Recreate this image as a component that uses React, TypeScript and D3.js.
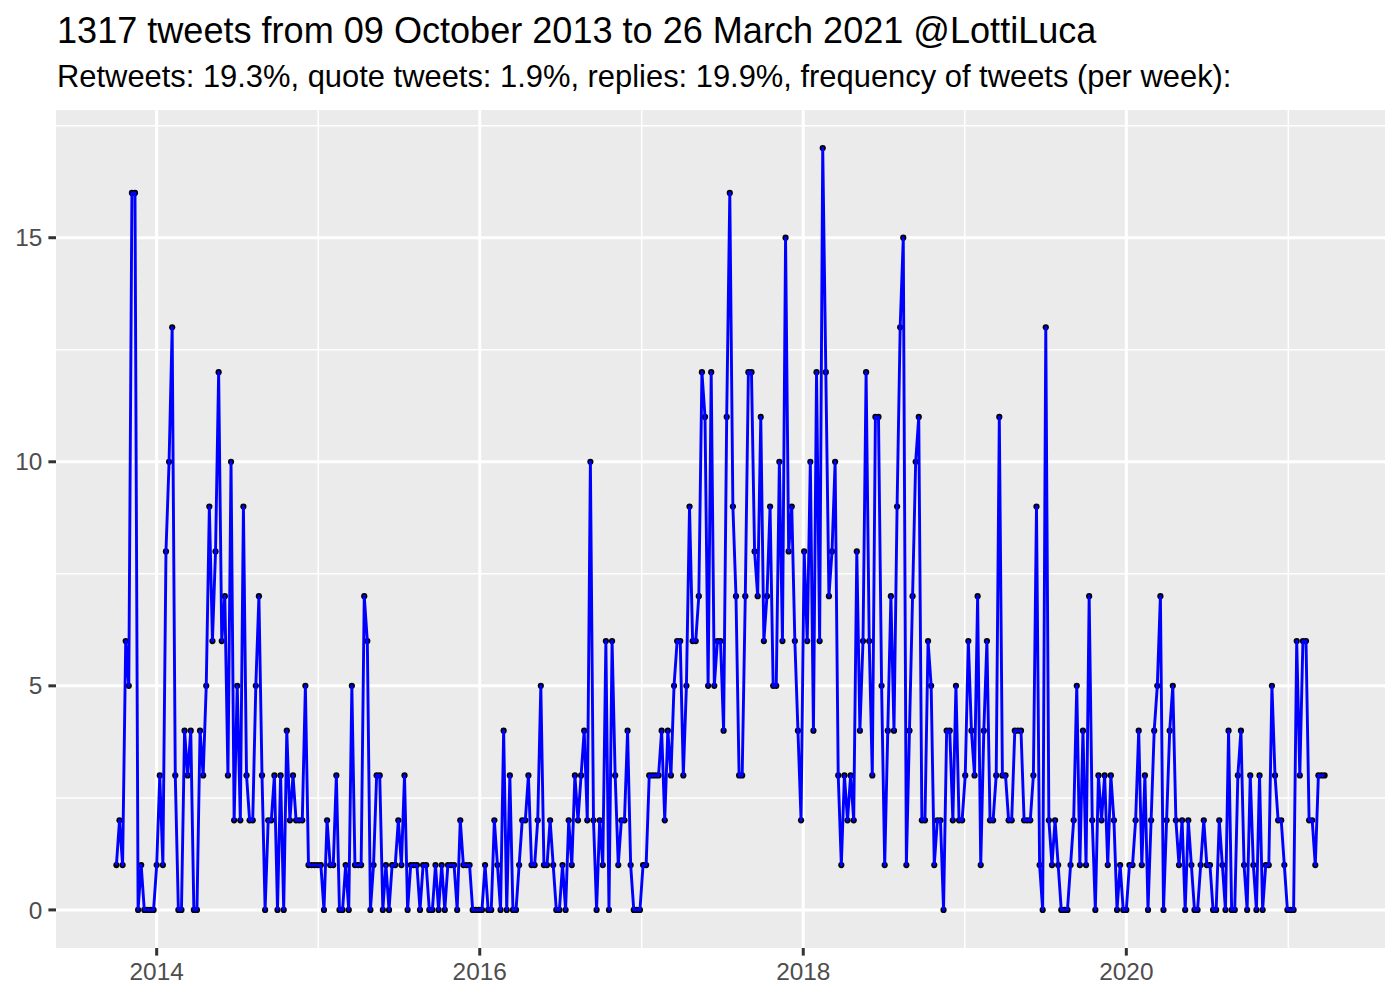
import React from "react";
import * as d3 from "d3";

// Weekly tweet counts (one value per week)
const START_WEEK = "2013-10-02";
const counts2013to14a = [1, 2, 1, 6, 5, 16, 16, 0, 1, 0, 0, 0, 0, 1, 3, 1, 8, 10, 13, 3, 0, 0, 4, 3, 4, 0, 0, 4, 3, 5, 9];
const counts2014b = [6, 8, 12, 6, 7, 3, 10, 2, 5, 2, 9, 3, 2, 2, 5, 7, 3, 0, 2, 2, 3, 0, 3, 0, 4, 2, 3, 2, 2, 2, 5, 1];
const counts2015a = [1, 1, 1, 1, 0, 2, 1, 1, 3, 0, 0, 1, 0, 5, 1, 1, 1, 7, 6, 0, 1, 3, 3, 0, 1, 0, 1, 1, 2, 1, 3, 0];
const counts2015b = [1, 1, 1, 0, 1, 1, 0, 0, 1, 0, 1, 0, 1, 1, 1, 0, 2, 1, 1, 1, 0, 0, 0, 0, 1, 0, 0, 2, 1, 0, 4, 0, 3];
const counts2016a = [0, 0, 1, 2, 2, 3, 1, 1, 2, 5, 1, 1, 2, 1, 0, 0, 1, 0, 2, 1, 3, 2, 3, 4, 2, 10, 2, 0, 2, 1, 6, 0];
const counts2016b = [6, 3, 1, 2, 2, 4, 1, 0, 0, 0, 1, 1, 3, 3, 3, 3, 4, 2, 4, 3, 5, 6, 6, 3, 5, 9, 6, 6, 7, 12, 11, 5, 12];
const counts2017 = [5, 6, 6, 4, 11, 16, 9, 7, 3, 3, 7, 12, 12, 8, 7, 11, 6, 7, 9, 5, 5, 10, 6, 15, 8, 9, 6, 4, 2, 8, 6, 10];
const counts2018a = [4, 12, 6, 17, 12, 7, 8, 10, 3, 1, 3, 2, 3, 2, 8, 4, 6, 12, 6, 3, 11, 11, 5, 1, 4, 7, 4, 9, 13, 15, 1];
const counts2018b = [4, 7, 10, 11, 2, 2, 6, 5, 1, 2, 2, 0, 4, 4, 2, 5, 2, 2, 3, 6, 4, 3, 7, 1, 4, 6, 2, 2, 3, 11, 3, 3, 2];
const counts2019 = [2, 4, 4, 4, 2, 2, 2, 3, 9, 1, 0, 13, 2, 1, 2, 1, 0, 0, 0, 1, 2, 5, 1, 4, 1, 7, 2, 0, 3, 2, 3, 1];
const counts2020a = [3, 2, 0, 1, 0, 0, 1, 1, 2, 4, 1, 3, 0, 2, 4, 5, 7, 0, 2, 4, 5, 2, 1, 2, 0, 2, 1, 0, 0, 1, 2, 1];
const counts2020b = [1, 0, 0, 2, 1, 0, 4, 0, 0, 3, 4, 1, 0, 3, 1, 0, 3, 0, 1, 1, 5, 3, 2, 2, 1, 0, 0, 0, 6, 3, 6, 6, 2, 2, 1, 3, 3, 3];

const yMajorBreaks = [0, 5, 10, 15];
const yMinorBreaks = [2.5, 7.5, 12.5, 17.5];
const xMajorYears = [2014, 2016, 2018, 2020];
const xMinorYears = [2013, 2015, 2017, 2019, 2021];

const TITLE = "1317 tweets from 09 October 2013 to 26 March 2021 @LottiLuca";
const SUBTITLE = "Retweets: 19.3%, quote tweets: 1.9%, replies: 19.9%, frequency of tweets (per week):";

const counts = [
  ...counts2013to14a, ...counts2014b, ...counts2015a, ...counts2015b,
  ...counts2016a, ...counts2016b, ...counts2017, ...counts2018a,
  ...counts2018b, ...counts2019, ...counts2020a, ...counts2020b,
];

const startDate = d3.timeParse("%Y-%m-%d")(START_WEEK) as Date;
const data = counts.map((n, i) => ({ date: d3.timeDay.offset(startDate, 7 * i), n }));

const W = 1400;
const H = 1000;
const P = { left: 56, right: 1385, top: 110, bottom: 948 };
const FONT = "'Liberation Sans', Arial, Helvetica, sans-serif";
const TICK = 7.6;

export default function App() {
  const t0 = +data[0].date;
  const t1 = +data[data.length - 1].date;
  const span = t1 - t0;
  const x = d3
    .scaleTime()
    .domain([new Date(t0 - 0.05 * span), new Date(t1 + 0.05 * span)])
    .range([P.left, P.right]);
  const yMax = d3.max(counts) as number;
  const y = d3
    .scaleLinear()
    .domain([-0.05 * yMax, yMax * 1.05])
    .range([P.bottom, P.top]);

  const [d0, d1] = x.domain();
  const inX = (d: Date) => d >= d0 && d <= d1;
  const xMajor = xMajorYears.map((yr) => new Date(yr, 0, 1)).filter(inX);
  const xMinor = xMinorYears.map((yr) => new Date(yr, 0, 1)).filter(inX);
  const [y0, y1] = y.domain();
  const yMinor = yMinorBreaks.filter((v) => v >= y0 && v <= y1);

  const line = d3
    .line<{ date: Date; n: number }>()
    .x((d) => x(d.date))
    .y((d) => y(d.n));

  return (
    <svg
      width={W}
      height={H}
      style={{ position: "absolute", left: 0, top: 0, display: "block", background: "#FFFFFF" }}
      fontFamily={FONT}
    >
      <rect x={0} y={0} width={W} height={H} fill="#FFFFFF" />
      <text x={P.left + 1} y={43} fontSize={36.1} fill="#000000">{TITLE}</text>
      <text x={P.left + 1} y={87} fontSize={30.9} fill="#000000">{SUBTITLE}</text>

      <rect x={P.left} y={P.top} width={P.right - P.left} height={P.bottom - P.top} fill="#EBEBEB" />
      {yMinor.map((v) => (
        <line key={"ym" + v} x1={P.left} x2={P.right} y1={y(v)} y2={y(v)} stroke="#FFFFFF" strokeWidth={1.5} />
      ))}
      {xMinor.map((d) => (
        <line key={"xm" + +d} x1={x(d)} x2={x(d)} y1={P.top} y2={P.bottom} stroke="#FFFFFF" strokeWidth={1.5} />
      ))}
      {yMajorBreaks.map((v) => (
        <line key={"yM" + v} x1={P.left} x2={P.right} y1={y(v)} y2={y(v)} stroke="#FFFFFF" strokeWidth={3} />
      ))}
      {xMajor.map((d) => (
        <line key={"xM" + +d} x1={x(d)} x2={x(d)} y1={P.top} y2={P.bottom} stroke="#FFFFFF" strokeWidth={3} />
      ))}

      {data.map((d, i) => (
        <circle key={"p" + i} cx={x(d.date)} cy={y(d.n)} r={3.1} fill="#000000" />
      ))}
      <path d={line(data) as string} fill="none" stroke="#0000FF" strokeWidth={2.9} strokeLinejoin="round" />

      {yMajorBreaks.map((v) => (
        <g key={"yt" + v}>
          <line x1={P.left - TICK} x2={P.left} y1={y(v)} y2={y(v)} stroke="#333333" strokeWidth={3} />
          <text x={P.left - TICK - 6.1} y={y(v) + 8.6} fontSize={24.4} fill="#4D4D4D" textAnchor="end">
            {v}
          </text>
        </g>
      ))}
      {xMajor.map((d) => (
        <g key={"xt" + +d}>
          <line x1={x(d)} x2={x(d)} y1={P.bottom} y2={P.bottom + TICK} stroke="#333333" strokeWidth={3} />
          <text x={x(d)} y={980} fontSize={24.4} fill="#4D4D4D" textAnchor="middle">
            {d3.timeFormat("%Y")(d)}
          </text>
        </g>
      ))}
    </svg>
  );
}
